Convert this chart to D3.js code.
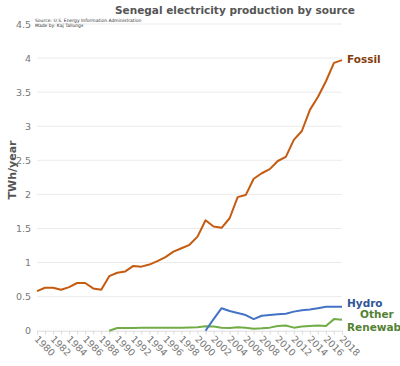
<!DOCTYPE html>
<html><head><meta charset="utf-8">
<script src="https://cdn.jsdelivr.net/npm/d3@7"></script>
<style>body{margin:0;background:#fff;}svg{display:block;font-family:"DejaVu Sans",sans-serif;}</style>
</head><body><svg id="c" width="400" height="366"></svg>
<script>
const fossilYears = d3.range(1980, 2019);
const fossil = [0.58,0.63,0.63,0.60,0.64,0.70,0.70,0.62,0.60,0.80,0.85,0.87,0.95,0.94,0.97,1.02,1.08,1.16,1.21,1.26,1.38,1.62,1.53,1.51,1.65,1.96,1.99,2.23,2.31,2.37,2.49,2.55,2.80,2.93,3.24,3.43,3.66,3.93,3.97];
const hydroYears = d3.range(2001, 2019);
const hydro = [0,0.17,0.33,0.29,0.26,0.23,0.17,0.22,0.23,0.24,0.25,0.28,0.30,0.31,0.33,0.35,0.35,0.35];
const otherYears = d3.range(1989, 2019);
const other = [0,0.04,0.04,0.04,0.042,0.042,0.043,0.044,0.045,0.045,0.047,0.05,0.065,0.06,0.045,0.04,0.05,0.045,0.03,0.035,0.045,0.07,0.075,0.045,0.06,0.07,0.075,0.07,0.17,0.16];
const yTicks = [0,0.5,1,1.5,2,2.5,3,3.5,4,4.5];
const xTicks = d3.range(1980, 2019, 2);
const seriesNames = ["Fossil","Hydro","Other Renewables"];

const svg = d3.select("#c");
const x = d3.scaleLinear().domain([1980, 2018]).range([37, 342]);
const y = d3.scaleLinear().domain([0, 4.5]).range([330.7, 24]);

// grid
svg.append("g").selectAll("line").data(yTicks.filter(d=>d>0)).join("line")
  .attr("x1", x(1980)).attr("x2", x(2018))
  .attr("y1", d=>y(d)).attr("y2", d=>y(d))
  .attr("stroke", "#ebebeb").attr("stroke-width", 1);

// y tick labels
svg.append("g").selectAll("text").data(yTicks).join("text")
  .attr("x", 31).attr("y", d=>y(d)+3.5)
  .attr("text-anchor","end").attr("font-size", 9.5).attr("fill","#777")
  .text(d=>d);

// x axis
const xAxis = d3.axisBottom(x).tickValues(d3.range(1980,2019)).tickSize(4).tickFormat("");
const gx = svg.append("g").attr("transform", `translate(0,${y(0)})`).call(xAxis);
gx.select(".domain").attr("stroke","#ddd");
gx.selectAll(".tick line").attr("stroke","#ddd");
svg.append("g").selectAll("text").data(xTicks).join("text")
  .attr("transform", d=>`translate(${x(d)-3},${y(0)+9}) rotate(45)`)
  .attr("font-size", 9.5).attr("fill","#777")
  .text(d=>d);

const line = d3.line().x(d=>x(d[0])).y(d=>y(d[1]));
function draw(years, vals, color){
  svg.append("path").datum(years.map((yr,i)=>[yr, vals[i]]))
    .attr("d", line).attr("fill","none").attr("stroke", color)
    .attr("stroke-width", 2).attr("stroke-linejoin","round");
}
draw(otherYears, other, "#70ad47");
draw(hydroYears, hydro, "#4472c4");
draw(fossilYears, fossil, "#c55a11");

// labels
const lab = svg.append("g").attr("font-weight","bold").attr("font-size", 10.5);
lab.append("text").attr("x", 347).attr("y", 63).attr("fill","#843c0c").text(seriesNames[0]);
lab.append("text").attr("x", 347).attr("y", 307).attr("fill","#2f5597").text(seriesNames[1]);
lab.append("text").attr("x", 360).attr("y", 318).attr("fill","#548235").text("Other");
lab.append("text").attr("x", 347).attr("y", 331).attr("fill","#548235").text("Renewables");

// title
svg.append("text").attr("x", 235).attr("y", 14).attr("text-anchor","middle")
  .attr("font-size", 10.5).attr("font-weight","bold").attr("fill","#555")
  .text("Senegal electricity production by source");

// source
svg.append("text").attr("x", 35).attr("y", 22).attr("font-size", 4.5).attr("fill","#333").text("Source: U.S. Energy Information Administration");
svg.append("text").attr("x", 35).attr("y", 27).attr("font-size", 4.5).attr("fill","#333").text("Made by: Kaj Tallungs");

// y label
svg.append("text").attr("transform", `translate(16,${170}) rotate(-90)`)
  .attr("text-anchor","middle").attr("font-size", 11).attr("font-weight","bold").attr("fill","#555")
  .text("TWh/year");
</script></body></html>
